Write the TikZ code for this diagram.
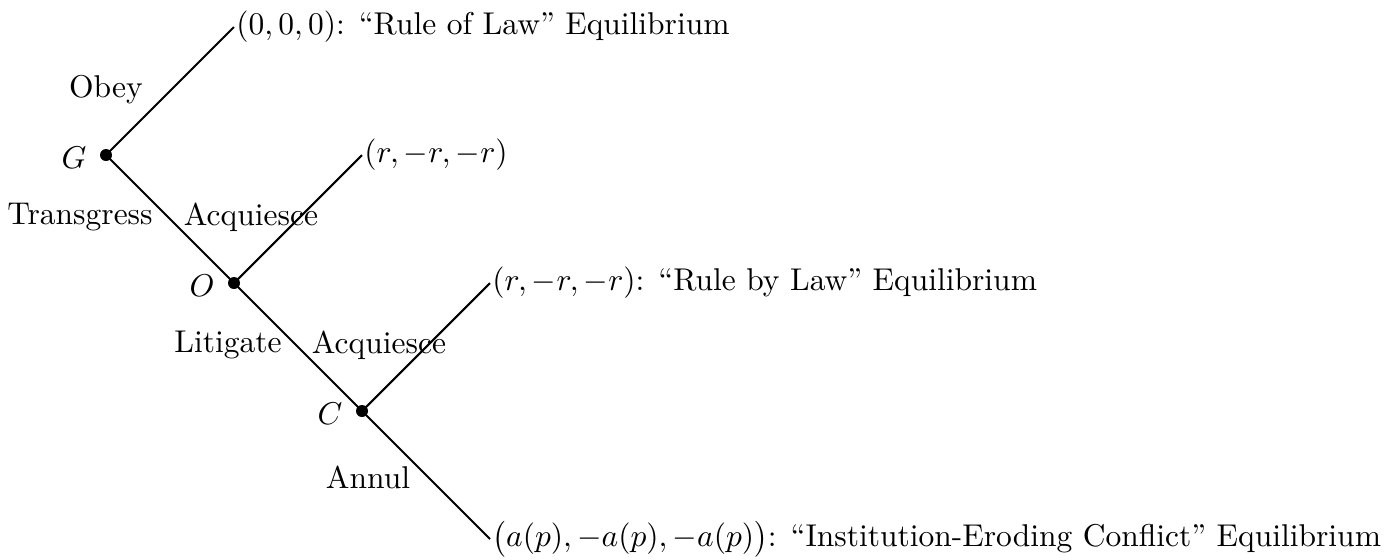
\RequirePackage{fix-cm}
\documentclass[tikz,border=0pt]{standalone}
\begin{document}
\begin{tikzpicture}[x=0.3333pt,y=-0.3333pt,
  every node/.style={font=\fontsize{10.5}{12.6}\selectfont},
  dec/.style={circle,fill,inner sep=0pt,minimum size=4pt},
  lbl/.style={inner sep=0pt},
  leaf/.style={anchor=west,inner sep=0.6pt},
  edge/.style={line width=0.7pt}]
\useasboundingbox (0,0) rectangle (1384,559);
\node[dec] (G) at (106,155) {};
\node[dec] (O) at (234,283) {};
\node[dec] (C) at (362,411) {};
\coordinate (L1) at (234,27);
\coordinate (L2) at (362,155);
\coordinate (L3) at (490,283);
\coordinate (L4) at (490,539);
\draw[edge] (G.center) -- (L1);
\draw[edge] (G.center) -- (O.center);
\draw[edge] (O.center) -- (L2);
\draw[edge] (O.center) -- (C.center);
\draw[edge] (C.center) -- (L3);
\draw[edge] (C.center) -- (L4);
\node[leaf] (T1) at (L1) {$(0,0,0)$: ``Rule of Law'' Equilibrium};
\node[leaf] (T2) at (L2) {$(r,-r,-r)$};
\node[leaf] (T3) at (L3) {$(r,-r,-r)$: ``Rule by Law'' Equilibrium};
\node[leaf] (T4) at (L4) {$\big(a(p),-a(p),-a(p)\big)$: ``Institution-Eroding Conflict'' Equilibrium};
\node[lbl] (nG) at (74,158) {$G$};
\node[lbl] (nO) at (202,286) {$O$};
\node[lbl] (nC) at (330,414) {$C$};
\node[lbl] (a1) at (106,90) {Obey};
\node[lbl] (a2) at (80,217) {Transgress};
\node[lbl] (a3) at (251,217) {Acquiesce};
\node[lbl] (a4) at (228,345) {Litigate};
\node[lbl] (a5) at (379,345) {Acquiesce};
\node[lbl] (a6) at (368,477) {Annul};
\end{tikzpicture}
\end{document}
